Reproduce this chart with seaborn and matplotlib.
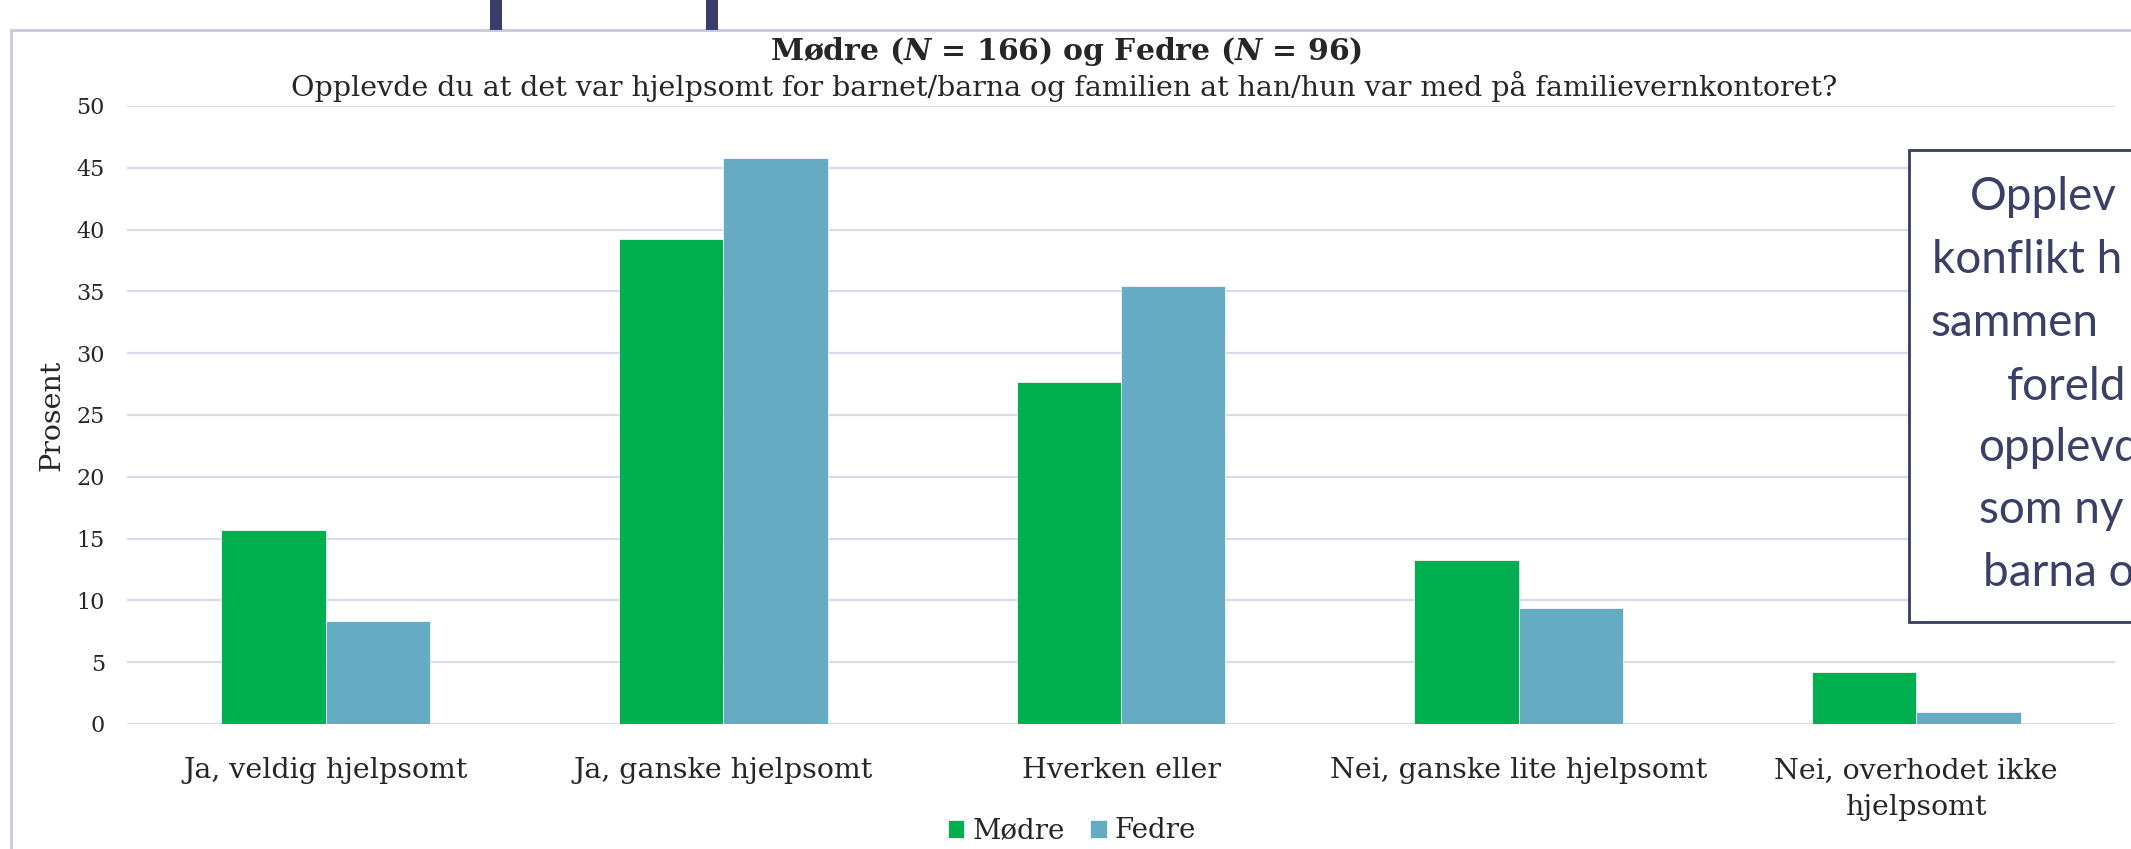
import matplotlib
matplotlib.use("Agg")
import matplotlib.pyplot as plt
from matplotlib.patches import Rectangle
import seaborn as sns
import pandas as pd

# Data (percent)
kategorier = [
    "Ja, veldig hjelpsomt",
    "Ja, ganske hjelpsomt",
    "Hverken eller",
    "Nei, ganske lite hjelpsomt",
    "Nei, overhodet ikke\nhjelpsomt",
]
grupper = ["Mødre", "Fedre"]
modre = [15.7, 39.2, 27.7, 13.3, 4.2]
fedre = [8.3, 45.8, 35.4, 9.4, 1.0]
y_ticks = [0, 5, 10, 15, 20, 25, 30, 35, 40, 45, 50]

tittel = r"Mødre ($\mathit{N}$ = 166) og Fedre ($\mathit{N}$ = 96)"
undertittel = ("Opplevde du at det var hjelpsomt for barnet/barna og familien "
               "at han/hun var med på familievernkontoret?")
boks_linjer = ["Opplev", "konflikt h", "sammen", "foreld", "opplevd", "som ny", "barna o"]

W, H = 2131, 849
GREEN = "#00b050"
BLUE = "#65abc4"
GRID = "#dadbea"
NAVY = "#363c63"


def setup_styles():
    sns.set_theme(style="white")
    plt.rcParams["font.family"] = ["DejaVu Serif"]
    plt.rcParams["mathtext.fontset"] = "custom"
    plt.rcParams["mathtext.rm"] = "DejaVu Serif:bold"
    plt.rcParams["mathtext.it"] = "DejaVu Serif:italic:bold"


def px(x, y):
    """Pixel-koordinater (fra øverst til venstre) -> figurkoordinater"""
    return x / W, 1 - y / H


setup_styles()

df = pd.DataFrame({
    "kategori": kategorier * 2,
    "gruppe": [grupper[0]] * len(kategorier) + [grupper[1]] * len(kategorier),
    "prosent": modre + fedre,
})

fig = plt.figure(figsize=(W / 100, H / 100), dpi=100)
ax = fig.add_axes([127 / W, 1 - 724 / H, (2115 - 127) / W, (724 - 106) / H])

sns.barplot(data=df, x="kategori", y="prosent", hue="gruppe",
            palette=[GREEN, BLUE], saturation=1, width=0.525, gap=0,
            edgecolor="#f2f6f8", linewidth=0.6, ax=ax)

ax.set_ylim(0, 50)
ax.set_yticks(y_ticks)
ax.yaxis.grid(True, color=GRID, linewidth=1.6)
ax.set_axisbelow(True)
for s in ax.spines.values():
    s.set_visible(False)
ax.tick_params(axis="x", length=0, pad=24, labelsize=20.5)
ax.tick_params(axis="y", length=0, pad=16, labelsize=16)
ax.set_xlabel("")
ax.set_ylabel("Prosent", fontsize=20.5)
ax.yaxis.set_label_coords(-0.031, 0.5)
for lab in ax.get_xticklabels():
    lab.set_linespacing(1.45)

# Legend under the plot
handles, labels = ax.get_legend_handles_labels()
ax.legend(handles, labels, loc="center", bbox_to_anchor=px(1072, 831),
          bbox_transform=fig.transFigure, ncol=2, frameon=False,
          fontsize=20, handlelength=0.6, handleheight=0.6,
          handletextpad=0.3, columnspacing=0.9)

# Titles
fig.text(*px(1066, 52), tittel, ha="center", va="center", fontsize=21.5,
         fontweight="bold")
fig.text(*px(1064, 86), undertittel, ha="center", va="center", fontsize=20.5)

# Chart frame (left and top edge of the chart area)
fig.add_artist(plt.Line2D([11 / W, 11 / W], [0, 1 - 30 / H], transform=fig.transFigure,
                          color="#c6c8e2", linewidth=2))
fig.add_artist(plt.Line2D([11 / W, 1], [1 - 30 / H, 1 - 30 / H], transform=fig.transFigure,
                          color="#c6c8e2", linewidth=2))

# Remnants of the slide heading above the chart
for x0 in [490, 706]:
    fig.add_artist(Rectangle(px(x0, 30), 12 / W, 30 / H, transform=fig.transFigure,
                             facecolor="#3a3c6a", edgecolor="none", zorder=6))

# Text box on the right, cut off by the slide edge
fig.add_artist(Rectangle(px(1909, 622), (2300 - 1909) / W, (622 - 150) / H,
                         transform=fig.transFigure, facecolor="white",
                         edgecolor=NAVY, linewidth=2, zorder=5))
boks_x = [1970, 1932, 1930, 2007, 1978, 1979, 1983]
boks_y = [197, 260, 323, 387, 448, 510, 573]
for tekst, bx, by in zip(boks_linjer, boks_x, boks_y):
    fig.text(*px(bx, by), tekst, ha="left", va="center", fontsize=33,
             family=["Lato", "DejaVu Sans"], color="#3a3f66", zorder=7)

fig.savefig("out.png", dpi=100)
plt.close(fig)
